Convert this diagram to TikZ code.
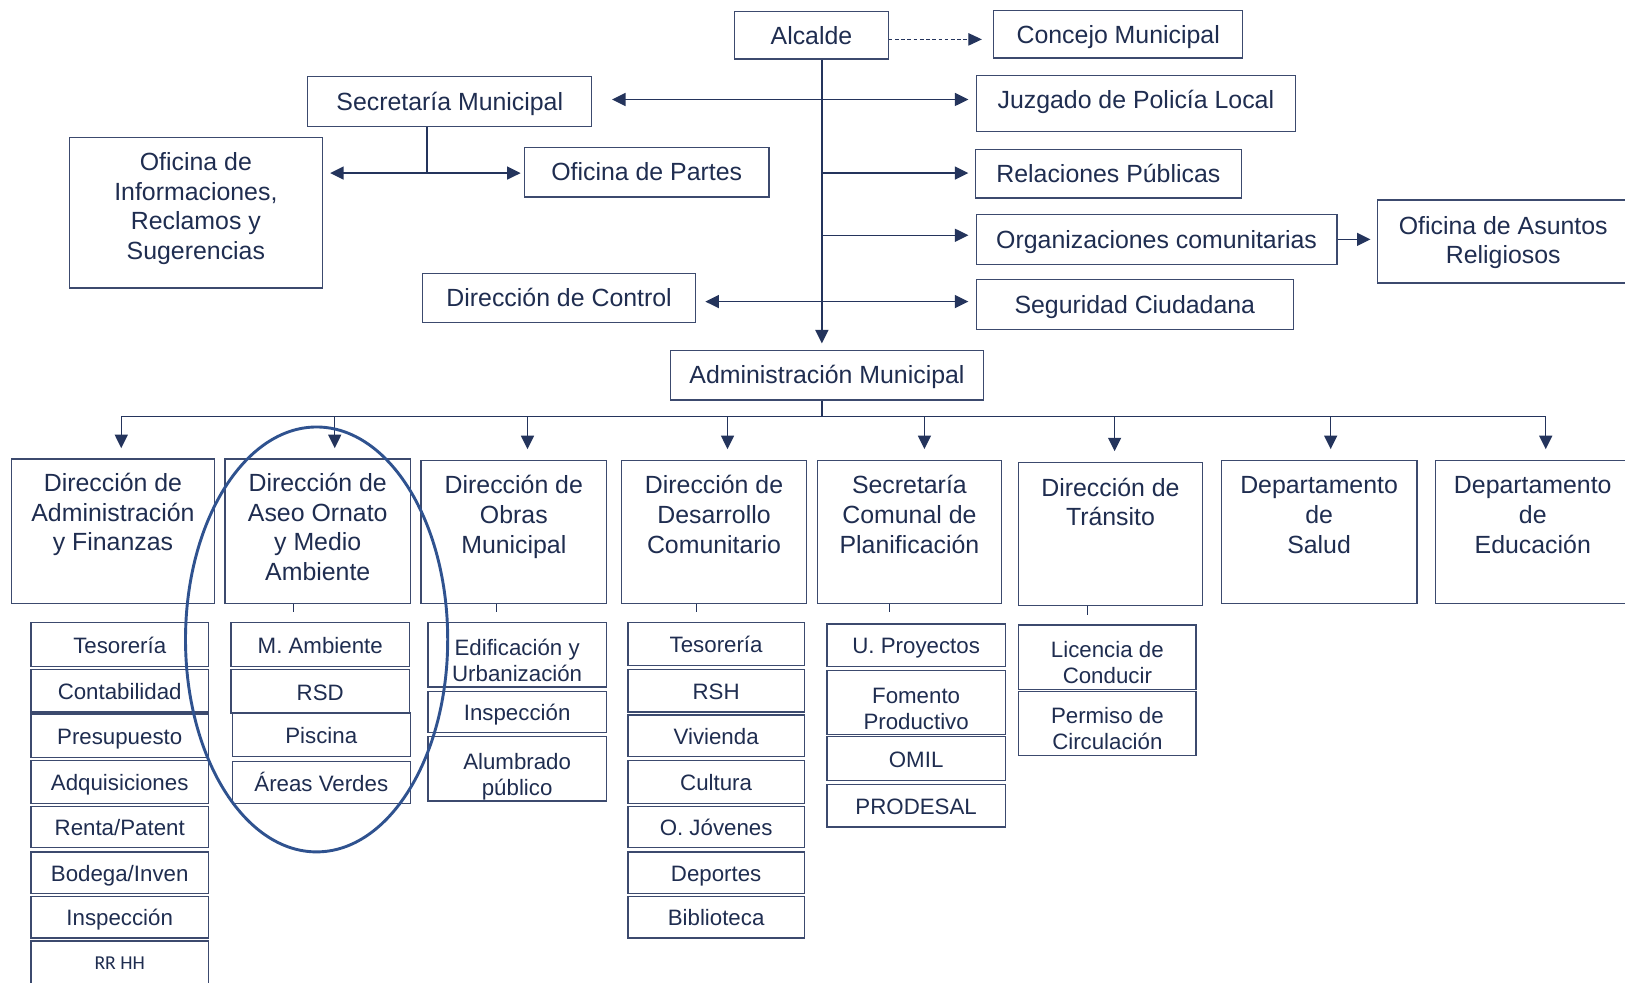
\documentclass[tikz,border=0pt]{standalone}
\usepackage{fontspec}
\setmainfont{Liberation Sans}
\newfontfamily\calib{Carlito}
\usetikzlibrary{arrows.meta,calc}
\definecolor{txt}{RGB}{31,45,80}
\definecolor{lnc}{RGB}{36,52,92}
\definecolor{bxc}{RGB}{60,74,110}
\definecolor{ellc}{RGB}{47,82,143}
\begin{document}
\begin{tikzpicture}[x=1pt,y=-1pt,
  box/.style={draw=bxc, line width=1.2pt, inner sep=0pt, align=center, text=txt,
    font=\fontsize{24}{28.5}\selectfont, text height=20pt, text depth=3pt},
  sb/.style={draw=bxc, line width=1.2pt, inner sep=0pt, align=center, text=txt,
    font=\fontsize{21.5}{25}\selectfont, text height=19pt, text depth=2pt},
  sb2/.style={sb, minimum height=62pt, text height=56.5pt, text depth=5.5pt},
  lnk/.style={draw=lnc, line width=1.4pt},
  arr/.style={lnk, -{Triangle[length=13pt,width=12.5pt]}},
  dbl/.style={lnk, {Triangle[length=13pt,width=12.5pt]}-{Triangle[length=13pt,width=12.5pt]}},
  dasharr/.style={draw=lnc, line width=1pt, dash pattern=on 3.5pt off 2.5pt, -{Triangle[length=13pt,width=12pt]}},
  tick/.style={draw=lnc, line width=1pt}]
\clip (0,0) rectangle (1568,948);
\fill[white] (0,0) rectangle (1568,948);

% ---- top level ----
\node[box, minimum width=148pt, minimum height=46pt] (alc) at (783,34) {Alcalde};
\node[box, minimum width=240pt, minimum height=46pt] (conc) at (1079,33) {Concejo Municipal};
\node[box, minimum width=274pt, minimum height=48pt] (sec) at (434,98) {Secretaría Municipal};
\node[box, minimum width=308pt, text height=31.6pt, text depth=22.4pt] (juz) at (1096,100) {Juzgado de Policía Local};
\node[box, minimum width=244pt, text height=117.1pt, text depth=27.9pt] (ofi) at (189,205.5) {Oficina de\\Informaciones,\\Reclamos y\\Sugerencias};
\node[box, minimum width=236pt, minimum height=48pt] (par) at (624,166) {Oficina de Partes};
\node[box, minimum width=257pt, minimum height=47pt] (rel) at (1069.5,167.5) {Relaciones Públicas};
\node[box, minimum width=348pt, minimum height=48pt] (org) at (1116,231) {Organizaciones comunitarias};
\node[box, minimum width=243pt, text height=61.6pt, text depth=18.4pt] (rlg) at (1450.5,233) {Oficina de Asuntos\\Religiosos};
\node[box, minimum width=306pt, minimum height=48pt] (seg) at (1095,294) {Seguridad Ciudadana};
\node[box, minimum width=263pt, minimum height=47pt] (ctl) at (539.5,287.5) {Dirección de Control};
\node[box, minimum width=302pt, minimum height=48pt] (adm) at (798,362) {Administración Municipal};

% ---- level 2 ----
\node[box, minimum width=196pt, text height=88.5pt, text depth=50.5pt] (d1) at (109,512.5) {Dirección de\\Administración\\y Finanzas};
\node[box, minimum width=179pt, text height=117pt, text depth=22pt] (d2) at (306.6,512.5) {Dirección de\\Aseo Ornato\\y Medio\\Ambiente};
\node[box, minimum width=179pt, text height=89.6pt, text depth=48.4pt] (d3) at (495.8,513) {Dirección de\\Obras\\Municipal};
\node[box, minimum width=179pt, text height=89.6pt, text depth=48.4pt] (d4) at (689,513) {Dirección de\\Desarrollo\\Comunitario};
\node[box, minimum width=178pt, text height=89.6pt, text depth=48.4pt] (d5) at (877.5,513) {Secretaría\\Comunal de\\Planificación};
\node[box, minimum width=178pt, text height=61.1pt, text depth=76.9pt] (d6) at (1071.5,515) {Dirección de\\Tránsito};
\node[box, minimum width=189pt, text height=89.6pt, text depth=48.4pt] (d7) at (1272.8,513) {Departamento\\de\\Salud};
\node[box, minimum width=188pt, text height=89.6pt, text depth=48.4pt] (d8) at (1479,513) {Departamento\\de\\Educación};

% ---- sub units ----
\node[sb, minimum width=171pt, minimum height=42pt] (a1) at (115.5,622) {Tesorería};
\node[sb, minimum width=171pt, minimum height=41pt] (a2) at (115.5,666.5) {Contabilidad};
\node[sb, minimum width=171pt, minimum height=42pt] (a3) at (115.5,710) {Presupuesto};
\node[sb, minimum width=171pt, minimum height=41pt] (a4) at (115.5,754.5) {Adquisiciones};
\node[sb, minimum width=171pt, minimum height=40pt] (a5) at (115.5,798) {Renta/Patent};
\node[sb, minimum width=171pt, minimum height=40pt] (a6) at (115.5,842) {Bodega/Inven};
\node[sb, minimum width=171pt, minimum height=40pt] (a7) at (115.5,885) {Inspección};
\node[sb, minimum width=171pt, minimum height=42pt, text height=14pt, text depth=1pt, font=\calib\fontsize{19}{22}\selectfont] (a8) at (115.5,929) {RR HH};

\node[sb, minimum width=172pt, minimum height=42pt] (e1) at (309,622) {M. Ambiente};
\node[sb, minimum width=172pt, minimum height=42pt] (e2) at (309,667) {RSD};
\node[sb, minimum width=172pt, minimum height=42pt] (e3) at (310,709) {Piscina};
\node[sb, minimum width=172pt, minimum height=40pt] (e4) at (310,755) {Áreas Verdes};

\node[sb2, minimum width=172pt] (o1) at (499,632) {Edificación y\\Urbanización};
\node[sb, minimum width=172pt, minimum height=40pt] (o2) at (499,687) {Inspección};
\node[sb2, minimum width=172pt] (o3) at (499,742) {Alumbrado\\público};

\node[sb, minimum width=170pt, minimum height=41pt] (c1) at (691,621.5) {Tesorería};
\node[sb, minimum width=170pt, minimum height=41pt] (c2) at (691,666.5) {RSH};
\node[sb, minimum width=170pt, minimum height=40pt] (c3) at (691,710) {Vivienda};
\node[sb, minimum width=170pt, minimum height=41pt] (c4) at (691,754.5) {Cultura};
\node[sb, minimum width=170pt, minimum height=40pt] (c5) at (691,798) {O. Jóvenes};
\node[sb, minimum width=170pt, minimum height=40pt] (c6) at (691,842) {Deportes};
\node[sb, minimum width=170pt, minimum height=40pt] (c7) at (691,885) {Biblioteca};

\node[sb, minimum width=172pt, minimum height=41pt] (p1) at (884,622.5) {U. Proyectos};
\node[sb2, minimum width=172pt] (p2) at (884,678) {Fomento\\Productivo};
\node[sb, minimum width=172pt, minimum height=42pt] (p3) at (884,732) {OMIL};
\node[sb, minimum width=172pt, minimum height=41pt] (p4) at (884,777.5) {PRODESAL};

\node[sb2, minimum width=171pt] (t1) at (1068.5,634) {Licencia de\\Conducir};
\node[sb2, minimum width=171pt] (t2) at (1068.5,698) {Permiso de\\Circulación};

% ---- coordinates ----
\coordinate (sx) at (793,0);
\coordinate (r1) at (793,96);
\coordinate (r2) at (793,167);
\coordinate (r3) at (793,227);
\coordinate (r4) at (793,291);
\coordinate (s2) at (412,167);
\coordinate (bus) at (793,402);
\coordinate (b1) at (117,402);
\coordinate (b2) at (323,402);
\coordinate (b3) at (509,402);
\coordinate (b4) at (702,402);
\coordinate (b5) at (892,402);
\coordinate (b6) at (1075.5,402);
\coordinate (b7) at (1284,402);
\coordinate (b8) at (1491.5,402);
\coordinate (k2) at (283.5,591);
\coordinate (k3) at (479.5,591);
\coordinate (k4) at (672.5,591);
\coordinate (k5) at (858,591);
\coordinate (k6) at (1049,593);

% ---- connectors ----
\draw[dasharr] ([yshift=-4pt]alc.east) -- ([yshift=-5pt,xshift=-11pt]conc.west);
\draw[arr, shorten >=6pt] (alc.south -| sx) -- (adm.north -| sx);
\draw[dbl, shorten <=19pt, shorten >=7pt] (sec.east |- r1) -- (juz.west |- r1);
\draw[arr, shorten >=6pt] (r2) -- (rel.west |- r2);
\draw[arr, shorten >=7pt] (r3) -- (org.west |- r3);
\draw[arr, shorten >=6pt] (org.east) -- (rlg.west |- org.east);
\draw[dbl, shorten <=9pt, shorten >=7pt] (ctl.east |- r4) -- (seg.west |- r4);
\draw[lnk] (sec.south -| s2) -- (s2);
\draw[dbl, shorten <=7pt, shorten >=3pt] (ofi.east |- s2) -- (par.west |- s2);
\draw[lnk] (adm.south -| bus) -- (bus);
\draw[lnk] (b1) -- (b8);
\foreach \i in {1,...,8}{\draw[arr, shorten >=10pt] (b\i) -- (b\i |- d\i.north);}
\draw[tick] (d2.south -| k2) -- (k2);
\draw[tick] (d3.south -| k3) -- (k3);
\draw[tick] (d4.south -| k4) -- (k4);
\draw[tick] (d5.south -| k5) -- (k5);
\draw[tick] (d6.south -| k6) -- (k6);

% ---- highlight ellipse ----
\draw[ellc, line width=2.8pt] (305.5,617) ellipse [x radius=126.5pt, y radius=205pt];
\end{tikzpicture}
\end{document}
